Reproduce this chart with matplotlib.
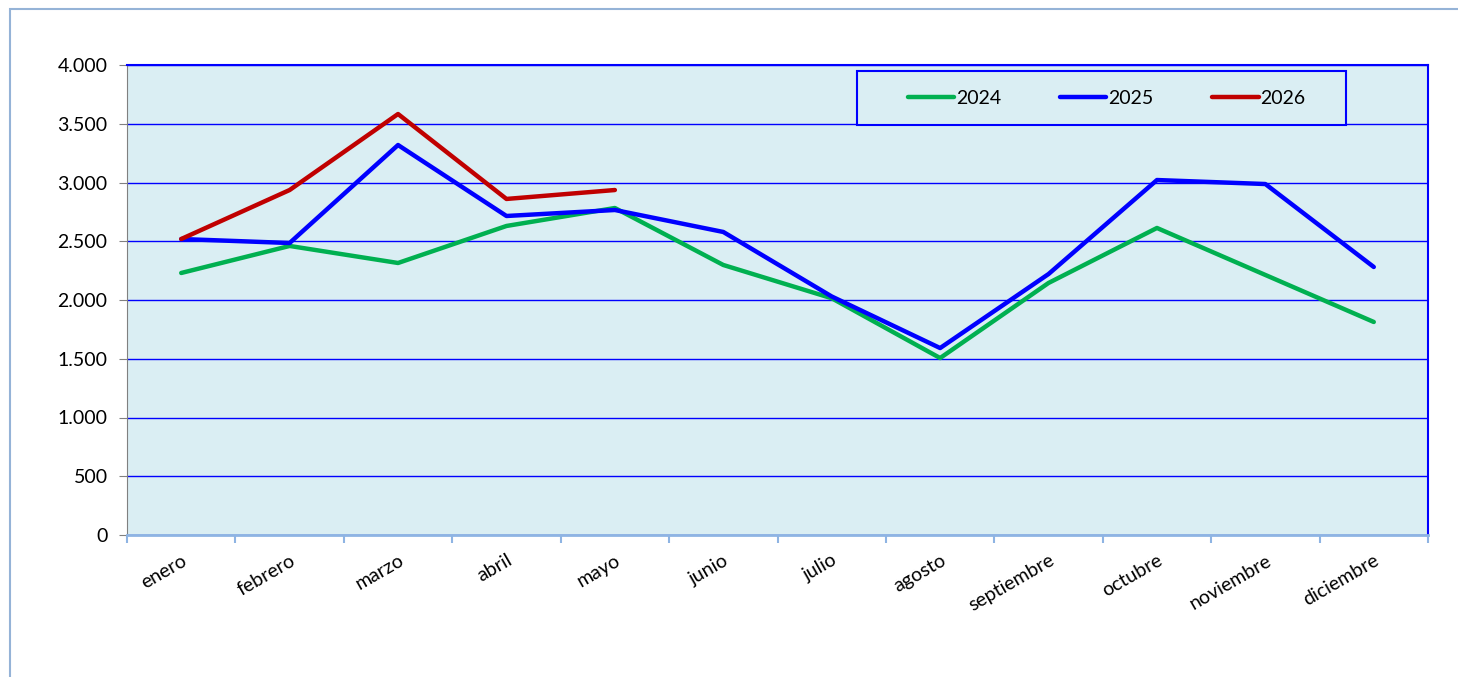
import matplotlib
matplotlib.use("Agg")
import matplotlib.pyplot as plt
from matplotlib.patches import Rectangle

# month labels and monthly values
meses = ["enero", "febrero", "marzo", "abril", "mayo", "junio", "julio",
         "agosto", "septiembre", "octubre", "noviembre", "diciembre"]
v2024 = [2230, 2460, 2315, 2630, 2783, 2298, 2015, 1506, 2145, 2613, 2213, 1813]
v2025 = [2519, 2485, 3319, 2715, 2766, 2579, 2030, 1591, 2221, 3021, 2987, 2281]
v2026 = [2519, 2936, 3583, 2860, 2936]

yticks = [0, 500, 1000, 1500, 2000, 2500, 3000, 3500, 4000]
ylabels = ["0", "500", "1.000", "1.500", "2.000", "2.500", "3.000", "3.500", "4.000"]

plt.rcParams['font.family'] = ['Lato', 'DejaVu Sans']

fig = plt.figure(figsize=(14.58, 6.77), dpi=100)
ax = fig.add_axes([127 / 1458, 1 - 535 / 677, (1428 - 127) / 1458, (535 - 65) / 677])

# outer chart frame
fig.patches.append(Rectangle((10 / 1458, -0.1), 1.2, 1 - 9 / 677 + 0.1,
                             transform=fig.transFigure, fill=False,
                             edgecolor="#95B3D7", linewidth=1.5))

ax.set_facecolor("#DAEEF3")
x = list(range(len(meses)))
ax.plot(x, v2024, color="#00B050", lw=3.2, label="2024", solid_capstyle="round")
ax.plot(x, v2025, color="#0000FF", lw=3.2, label="2025", solid_capstyle="round")
ax.plot(x[:len(v2026)], v2026, color="#C00000", lw=3.2, label="2026", solid_capstyle="round")

ax.set_xlim(-0.5, len(meses) - 0.5)
ax.set_ylim(0, 4000)
ax.set_yticks(yticks)
ax.set_yticklabels(ylabels, fontsize=14)
ax.grid(axis="y", color="#0000FF", lw=1)
ax.set_axisbelow(True)

ax.set_xticks(x)
ax.set_xticklabels(meses, fontsize=14, rotation=30, ha="right", rotation_mode="anchor")
ax.tick_params(axis="x", length=0, pad=12)
ax.set_xticks([i - 0.5 for i in range(len(meses) + 1)], minor=True)
ax.tick_params(axis="x", which="minor", length=6, color="#8EB4E3", width=1.5)
ax.tick_params(axis="y", length=6, color="#808080", pad=8)

ax.spines["left"].set_color("#808080")
ax.spines["bottom"].set_color("#8EB4E3")
ax.spines["bottom"].set_linewidth(2)
ax.spines["top"].set_color("#0000FF")
ax.spines["right"].set_color("#0000FF")
ax.spines["top"].set_linewidth(1.5)
ax.spines["right"].set_linewidth(1.5)

# legend box drawn by hand so its size matches the original
bx0, bx1 = (857 - 127) / 1301, (1346 - 127) / 1301
by0, by1 = 1 - (125 - 65) / 470, 1 - (71 - 65) / 470
ax.add_patch(Rectangle((bx0, by0), bx1 - bx0, by1 - by0, transform=ax.transAxes,
                       facecolor="#DAEEF3", edgecolor="#0000FF", lw=1.5, zorder=4))
leg = ax.legend(loc="center", bbox_to_anchor=((bx0 + bx1) / 2 + 0.004, (by0 + by1) / 2),
                ncol=3, frameon=False, fontsize=14,
                handlelength=2.4, handletextpad=0.1, columnspacing=3.0,
                borderaxespad=0)
leg.set_zorder(5)

fig.savefig("out.png", dpi=100)
